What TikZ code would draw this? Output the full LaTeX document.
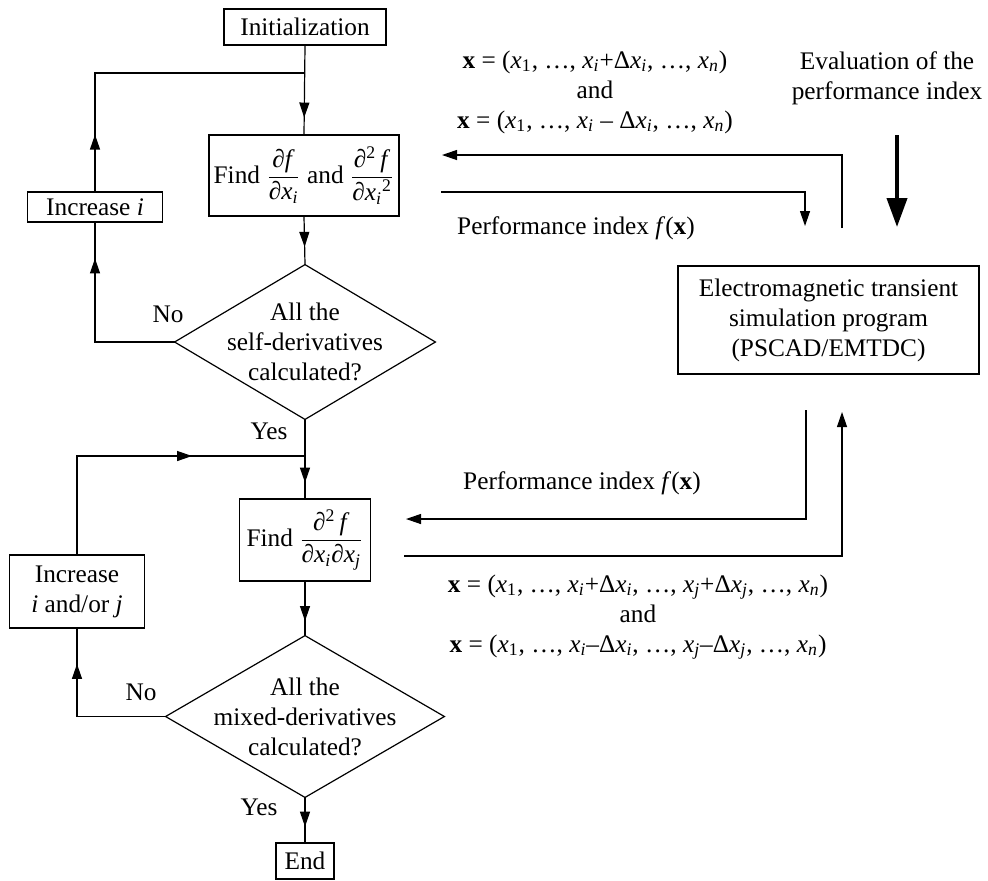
\documentclass[tikz,border=0pt]{standalone}
\usepackage{fontspec}
\setmainfont{Liberation Serif}
\usetikzlibrary{arrows.meta,decorations.markings}

% x with a subscript, set in the text font
\newcommand{\xsub}[1]{\textit{x}\textsubscript{#1}}
\newcommand{\pfrac}[2]{$\displaystyle\frac{\mbox{#1}}{\mbox{#2}}$}

\tikzset{
  base/.style={font=\fontsize{12.65}{15}\selectfont, align=center},
  box/.style={base, draw, line width=0.6pt, inner sep=1pt},
  decision/.style={base, inner sep=0pt},
  lbl/.style={base, inner sep=0pt},
  flow/.style={line width=0.6pt},
  tipshape/.style={-{Triangle[length=7.5pt,width=5pt]}},
  midtip/.style={postaction={decorate,decoration={markings,
      mark=at position #1 with {\arrow{Triangle[length=7.5pt,width=5pt]}}}}},
}

\begin{document}
\begin{tikzpicture}[x=0.5pt,y=-0.5pt]
\useasboundingbox (0,0) rectangle (988,880);

% ---- main flow column ----
\node[box, minimum width=81pt, minimum height=18pt] (init) at (305,27) {Initialization};
\node[box, minimum width=95pt, minimum height=40.5pt] (find1) at (304,175.5)
  {Find \pfrac{∂\textit{f}}{∂\xsub{\textit{i}}} and \pfrac{∂\textsuperscript{2}\,\textit{f}}{∂\xsub{\textit{i}}\textsuperscript{2}}};
\node[box, minimum width=67.5pt, minimum height=15pt] (inc1) at (95,207) {Increase \textit{i}};
\node[decision, minimum width=130pt, minimum height=77pt] (dia1) at (305,342)
  {All the\\self-derivatives\\calculated?};
\node[box, minimum width=65.5pt, minimum height=41pt] (find2) at (305,540)
  {Find \pfrac{∂\textsuperscript{2}\,\textit{f}}{∂\xsub{\textit{i}}∂\xsub{\textit{j}}}};
\node[box, minimum width=67.5pt, minimum height=36.5pt] (inc2) at (77,591.5)
  {Increase\\\textit{i} and/or \textit{j}};
\node[decision, minimum width=139pt, minimum height=80.5pt] (dia2) at (305,716.5)
  {All the\\mixed-derivatives\\calculated?};
\node[box, minimum width=29pt, minimum height=18pt] (end) at (305,861) {End};

% diamond outlines
\draw[flow] (dia1.north) -- (dia1.east) -- (dia1.south) -- (dia1.west) -- cycle;
\draw[flow] (dia2.north) -- (dia2.east) -- (dia2.south) -- (dia2.west) -- cycle;

% simulation program
\node[box, minimum width=150.5pt, minimum height=54pt] (emt) at (828.5,320)
  {Electromagnetic transient\\simulation program\\(PSCAD/EMTDC)};

% junctions where the loops rejoin
\coordinate (j1) at (305,73);
\coordinate (j2) at (305,456);

% ---- flow connectors ----
\draw[flow, midtip=0.81] (init.south) -- (find1.north);
\draw[flow, midtip=0.63] (find1.south) -- (dia1.north);
\draw[flow, midtip=0.82] (dia1.west) -| (inc1.south);
\draw[flow, midtip=0.173] (inc1.north) |- (j1);
\draw[flow, midtip=0.8] (dia1.south) -- (find2.north);
\draw[flow, midtip=0.73] (find2.south) -- (dia2.north);
\draw[flow, midtip=0.80] (dia2.west) -| (inc2.south);
\draw[flow, midtip=0.654] (inc2.north) |- (j2);
\draw[flow, midtip=0.65] (dia2.south) -- (end.north);

% branch labels
\node[lbl] (no1) at (168,314) {No};
\node[lbl] (yes1) at (269,431) {Yes};
\node[lbl] (no2) at (141,692) {No};
\node[lbl] (yes2) at (259,807) {Yes};

% ---- exchange with the simulation program ----
\coordinate (rs1) at (842,228);
\coordinate (rl1) at (442,155);
\coordinate (rl2) at (441,192);
\coordinate (rs2) at (805,226);
\coordinate (rs3) at (806,410);
\coordinate (rl3) at (406,519);
\coordinate (rl4) at (404,556);
\coordinate (rs4) at (842,412);
\coordinate (th1) at (897,135);
\coordinate (th2) at (897,227);

\draw[flow, tipshape] (rs1) |- (rl1);
\draw[flow, tipshape] (rl2) -| (rs2);
\draw[flow, tipshape] (rs3) |- (rl3);
\draw[flow, tipshape] (rl4) -| (rs4);
\draw[line width=2pt, -{Triangle[length=14.5pt,width=10pt]}] (th1) -- (th2);

\node[lbl] (fx1) at (595,92)
  {\textbf{x} = (\xsub{1}, …, \xsub{\textit{i}}+Δ\xsub{\textit{i}}, …, \xsub{\textit{n}})\\
   and\\
   \textbf{x} = (\xsub{1}, …, \xsub{\textit{i}} – Δ\xsub{\textit{i}}, …, \xsub{\textit{n}})};
\node[lbl] (eval) at (887,78) {Evaluation of the\\performance index};
\node[lbl] (pi1) at (576,228) {Performance index \textit{f}(\textbf{x})};
\node[lbl] (pi2) at (582,483) {Performance index \textit{f}(\textbf{x})};
\node[lbl] (fx2) at (638,617)
  {\textbf{x} = (\xsub{1}, …, \xsub{\textit{i}}+Δ\xsub{\textit{i}}, …, \xsub{\textit{j}}+Δ\xsub{\textit{j}}, …, \xsub{\textit{n}})\\
   and\\
   \textbf{x} = (\xsub{1}, …, \xsub{\textit{i}}–Δ\xsub{\textit{i}}, …, \xsub{\textit{j}}–Δ\xsub{\textit{j}}, …, \xsub{\textit{n}})};
\end{tikzpicture}
\end{document}
